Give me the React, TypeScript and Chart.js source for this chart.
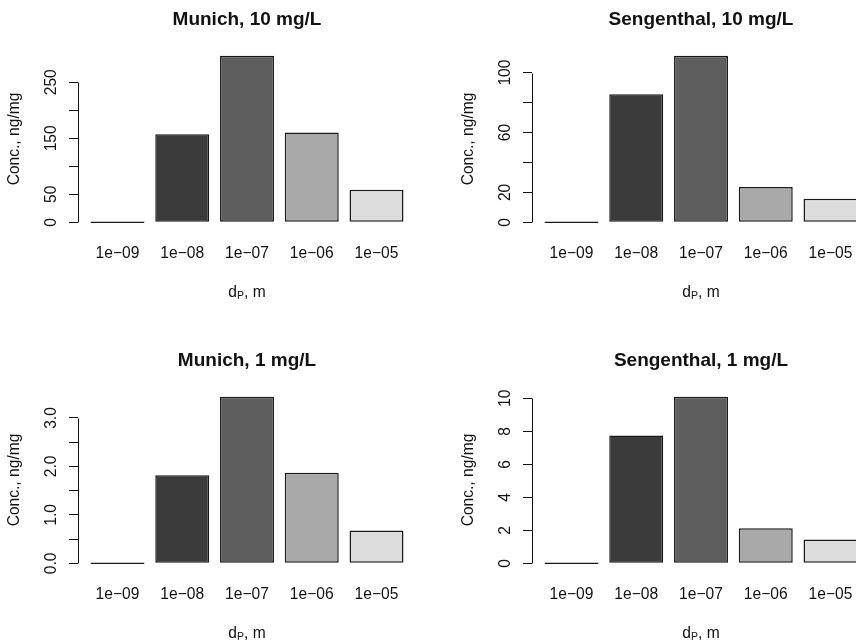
import { useEffect, useRef } from 'react';
import { Chart, registerables } from 'chart.js';

Chart.register(...registerables);

// Particle diameter classes (m) shared by every panel
const categories = ['1e\u221209', '1e\u221208', '1e\u221207', '1e\u221206', '1e\u221205'];
const barColors = ['#1c1c1c', '#3b3b3b', '#5e5e5e', '#a9a9a9', '#dcdcdc'];

// Concentrations, ng/mg
const munich10 = [0, 157.4, 297.5, 160.3, 58.2];
const sengenthal10 = [0, 85.6, 111.3, 23.6, 15.8];
const munich1 = [0, 1.82, 3.44, 1.87, 0.68];
const sengenthal1 = [0, 7.74, 10.1, 2.12, 1.45];

// Y tick positions and the labels printed next to them ('' = tick without label)
const munich10Ticks = [0, 50, 100, 150, 200, 250];
const munich10TickLabels = ['0', '50', '', '150', '', '250'];
const sengenthal10Ticks = [0, 20, 40, 60, 80, 100];
const sengenthal10TickLabels = ['0', '20', '', '60', '', '100'];
const munich1Ticks = [0, 0.5, 1, 1.5, 2, 2.5, 3];
const munich1TickLabels = ['0.0', '', '1.0', '', '2.0', '', '3.0'];
const sengenthal1Ticks = [0, 2, 4, 6, 8, 10];
const sengenthal1TickLabels = ['0', '2', '4', '6', '8', '10'];

const panelTitles = ['Munich, 10 mg/L', 'Sengenthal, 10 mg/L', 'Munich, 1 mg/L', 'Sengenthal, 1 mg/L'];
const yTitle = 'Conc., ng/mg';

const FONT = '"Liberation Sans", Arial, Helvetica, sans-serif';
const INK = '#111';

// barplot geometry: bars of width 1 separated by 0.2, range padded by 4 %
const BAR_WIDTH = 1;
const BAR_SPACE = 0.2;
const BAR_STEP = BAR_WIDTH + BAR_SPACE;
const barCentre = (i: number) => BAR_SPACE + BAR_WIDTH / 2 + i * BAR_STEP;
const xLo = BAR_SPACE;
const xHi = categories.length * BAR_STEP;
const xPad = (xHi - xLo) * 0.04;

type Box = { left: number; top: number; width: number; height: number };
type Plot = { left: number; top: number; right: number; bottom: number };
type Spec = {
  title: string;
  values: number[];
  ticks: number[];
  tickLabels: string[];
  canvas: Box;
  plot: Plot;
};

const panels: Spec[] = [
  {
    title: panelTitles[0], values: munich10, ticks: munich10Ticks, tickLabels: munich10TickLabels,
    canvas: { left: 0, top: 0, width: 428, height: 330 },
    plot: { left: 78, top: 49, right: 416, bottom: 229 },
  },
  {
    title: panelTitles[1], values: sengenthal10, ticks: sengenthal10Ticks, tickLabels: sengenthal10TickLabels,
    canvas: { left: 428, top: 0, width: 452, height: 330 },
    plot: { left: 532, top: 49, right: 870, bottom: 229 },
  },
  {
    title: panelTitles[2], values: munich1, ticks: munich1Ticks, tickLabels: munich1TickLabels,
    canvas: { left: 0, top: 330, width: 428, height: 311 },
    plot: { left: 78, top: 390, right: 416, bottom: 570 },
  },
  {
    title: panelTitles[3], values: sengenthal1, ticks: sengenthal1Ticks, tickLabels: sengenthal1TickLabels,
    canvas: { left: 428, top: 330, width: 452, height: 311 },
    plot: { left: 532, top: 390, right: 870, bottom: 570 },
  },
];

// Draws the base-graphics style decorations: title, y axis line, rotated y labels, axis titles
function decorations(spec: Spec) {
  return {
    id: 'decorations',
    afterDraw(chart: Chart) {
      const { ctx, chartArea: a } = chart;
      const y = chart.scales.y;
      const midX = (a.left + a.right) / 2;
      const midY = (a.top + a.bottom) / 2;
      ctx.save();
      ctx.fillStyle = INK;
      ctx.strokeStyle = INK;

      // y axis line spans first to last tick only
      const axisX = Math.round(a.left) + 0.5;
      ctx.lineWidth = 1;
      ctx.beginPath();
      ctx.moveTo(axisX, Math.round(y.getPixelForValue(spec.ticks[0])) + 0.5);
      ctx.lineTo(axisX, Math.round(y.getPixelForValue(spec.ticks[spec.ticks.length - 1])) + 0.5);
      ctx.stroke();

      // y tick labels, parallel to the axis
      ctx.font = `15.6px ${FONT}`;
      ctx.textAlign = 'center';
      ctx.textBaseline = 'alphabetic';
      spec.ticks.forEach((v, i) => {
        const label = spec.tickLabels[i];
        if (!label) return;
        ctx.save();
        ctx.translate(a.left - 22, y.getPixelForValue(v));
        ctx.rotate(-Math.PI / 2);
        ctx.fillText(label, 0, 0);
        ctx.restore();
      });

      // y axis title
      ctx.save();
      ctx.translate(a.left - 59.5, midY);
      ctx.rotate(-Math.PI / 2);
      ctx.fillText(yTitle, 0, 0);
      ctx.restore();

      // x axis title: d with subscript P
      const base = a.bottom + 67.5;
      ctx.textAlign = 'left';
      ctx.font = `15.6px ${FONT}`;
      const wd = ctx.measureText('d').width;
      const wRest = ctx.measureText(', m').width;
      ctx.font = `10.5px ${FONT}`;
      const wp = ctx.measureText('P').width;
      let x = midX - (wd + wp + wRest) / 2;
      ctx.font = `15.6px ${FONT}`;
      ctx.fillText('d', x, base);
      x += wd;
      ctx.font = `10.5px ${FONT}`;
      ctx.fillText('P', x, base + 2);
      x += wp;
      ctx.font = `15.6px ${FONT}`;
      ctx.fillText(', m', x, base);

      // panel title
      ctx.font = `bold 19px ${FONT}`;
      ctx.textAlign = 'center';
      ctx.fillText(spec.title, midX, a.top - 24);
      ctx.restore();
    },
  };
}

function Panel({ spec }: { spec: Spec }) {
  const ref = useRef<HTMLCanvasElement | null>(null);

  useEffect(() => {
    const { canvas: c, plot: p } = spec;
    const peak = Math.max(...spec.values);
    const chart = new Chart(ref.current as HTMLCanvasElement, {
      type: 'bar',
      data: {
        datasets: [
          {
            data: spec.values.map((v, i) => ({ x: barCentre(i), y: v })),
            backgroundColor: barColors,
            borderColor: '#1a1a1a',
            borderWidth: 1.5,
            borderSkipped: false,
            minBarLength: 1.5,
            barPercentage: BAR_WIDTH / BAR_STEP,
            categoryPercentage: 1,
          },
        ],
      },
      options: {
        responsive: false,
        animation: false,
        devicePixelRatio: 1,
        layout: {
          padding: { top: p.top - c.top, right: c.left + c.width - p.right, left: 0, bottom: 0 },
        },
        plugins: {
          legend: { display: false },
          tooltip: { enabled: false },
          title: { display: false },
        },
        scales: {
          x: {
            type: 'linear',
            min: xLo - xPad,
            max: xHi + xPad,
            offset: false,
            grid: { display: false },
            border: { display: false },
            afterBuildTicks: (axis: any) => {
              axis.ticks = categories.map((_, i) => ({ value: barCentre(i) }));
            },
            afterFit: (axis: any) => {
              axis.height = c.top + c.height - p.bottom;
            },
            ticks: {
              autoSkip: false,
              minRotation: 0,
              maxRotation: 0,
              padding: 7,
              color: INK,
              font: { family: FONT, size: 15.6 },
              callback: (_v: any, i: number) => categories[i],
            },
          },
          y: {
            type: 'linear',
            min: -0.04 * peak,
            max: 1.04 * peak,
            afterBuildTicks: (axis: any) => {
              axis.ticks = spec.ticks.map((v) => ({ value: v }));
            },
            afterFit: (axis: any) => {
              axis.width = p.left - c.left;
            },
            ticks: { display: false },
            grid: {
              drawOnChartArea: false,
              drawTicks: true,
              tickLength: 9,
              tickColor: INK,
              lineWidth: 1,
            },
            border: { display: false },
          },
        },
      },
      plugins: [decorations(spec)],
    });
    return () => chart.destroy();
  }, [spec]);

  const { canvas: c } = spec;
  return (
    <canvas
      ref={ref}
      width={c.width}
      height={c.height}
      style={{ position: 'absolute', left: c.left, top: c.top, width: c.width, height: c.height }}
    />
  );
}

export default function App() {
  return (
    <div
      style={{
        position: 'absolute',
        left: 0,
        top: 0,
        width: 856,
        height: 641,
        overflow: 'hidden',
        background: '#fff',
      }}
    >
      {panels.map((spec) => (
        <Panel key={spec.title} spec={spec} />
      ))}
    </div>
  );
}
